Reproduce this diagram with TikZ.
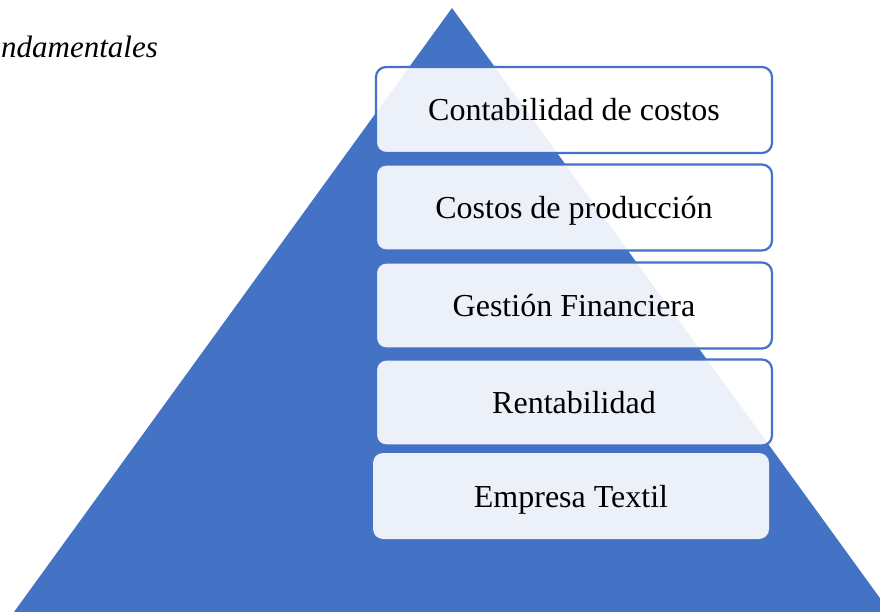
\documentclass[tikz,border=0pt]{standalone}
\usepackage{fontspec}
\setmainfont{Liberation Serif}
\definecolor{pyrblue}{HTML}{4472C4}
\begin{document}
\begin{tikzpicture}[x=1pt,y=-1pt,
  level/.style={rounded corners=10pt,minimum width=396pt,minimum height=86pt,
    fill=white,fill opacity=.9,text opacity=1,draw=pyrblue,line width=2.2pt,
    inner sep=0pt,text height=22pt,text depth=0pt,font=\fontsize{32}{38}\selectfont},
  base/.style={level,draw=none}]
\useasboundingbox (0,0) rectangle (880,612);
\clip (0,0) rectangle (880,612);
\fill[pyrblue] (452,8) -- (14,612) -- (890,612) -- cycle;
\node[anchor=base west,inner sep=0pt,font=\fontsize{31}{36}\selectfont\itshape] (title) at (1,58) {ndamentales};
\foreach \y/\t [count=\i] in {110/Contabilidad de costos,207.5/Costos de producción,305.5/Gestión Financiera,402.5/Rentabilidad}
  \node[level] (level\i) at (574,\y) {\t};
\node[base] (level5) at (571,496) {Empresa Textil};
\end{tikzpicture}
\end{document}
